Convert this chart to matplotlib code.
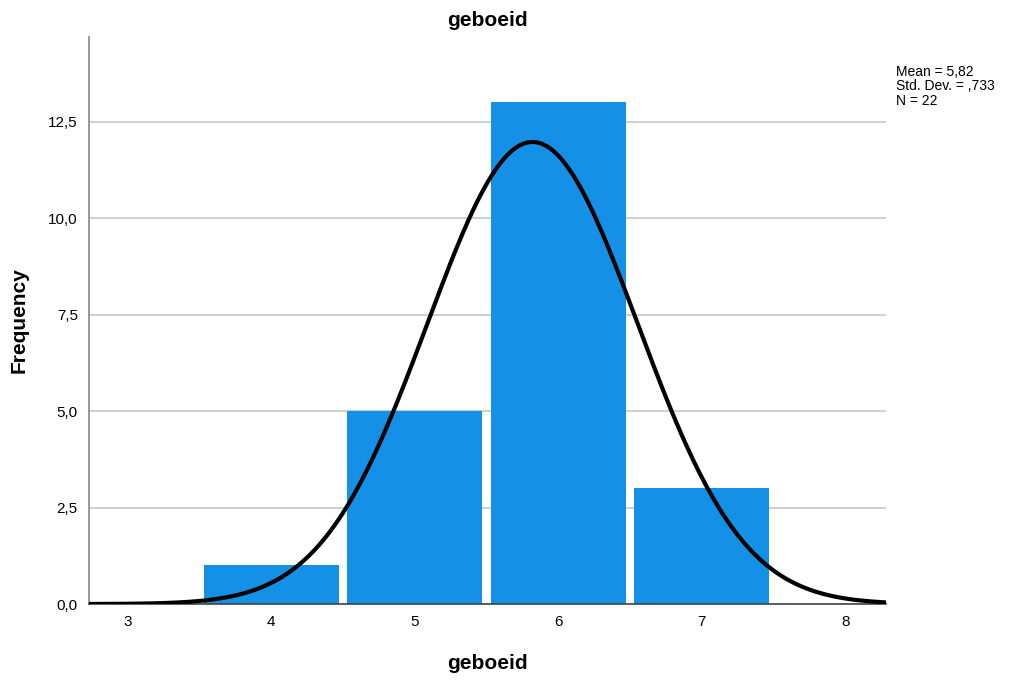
import numpy as np
import matplotlib.pyplot as plt

plt.rcParams['font.family'] = ['Liberation Sans', 'DejaVu Sans']

values = [4, 5, 6, 7]
counts = [1, 5, 13, 3]
mean = 5.82
std_dev = 0.733
n = 22

fig = plt.figure(figsize=(10.11, 6.81), dpi=100)
ax = fig.add_axes([0.088, 0.113, 0.788, 0.833])

ax.bar(values, counts, width=0.94, color='#1490E6', edgecolor='none', zorder=2)

x = np.linspace(2.73, 8.28, 400)
y = n * 1.0 / (std_dev * np.sqrt(2 * np.pi)) * np.exp(-0.5 * ((x - mean) / std_dev) ** 2)
ax.plot(x, y, color='black', linewidth=3, zorder=3)

ax.set_xlim(2.73, 8.28)
ax.set_ylim(0, 14.7)
ax.set_xticks([3, 4, 5, 6, 7, 8])
yt = [0, 2.5, 5, 7.5, 10, 12.5]
ax.set_yticks(yt)
ax.set_yticklabels([f'{v:.1f}'.replace('.', ',') for v in yt])
ax.tick_params(length=0, labelsize=11, pad=8)
ax.yaxis.grid(True, color='#D0D0D0', linewidth=1.5, zorder=0)
ax.set_axisbelow(True)
for s in ['top', 'right']:
    ax.spines[s].set_visible(False)
ax.spines['left'].set_color('#888888')
ax.spines['bottom'].set_color('#444444')
ax.spines['left'].set_linewidth(1.2)
ax.spines['bottom'].set_linewidth(1.2)

ax.set_title('geboeid', fontsize=15, fontweight='bold', pad=8)
ax.set_xlabel('geboeid', fontsize=15, fontweight='bold', labelpad=18)
ax.set_ylabel('Frequency', fontsize=15, fontweight='bold', labelpad=14)

fig.text(0.886, 0.905, 'Mean = 5,82\nStd. Dev. = ,733\nN = 22', fontsize=10,
         va='top', ha='left', linespacing=1.05)

fig.savefig('out.png', dpi=100)
